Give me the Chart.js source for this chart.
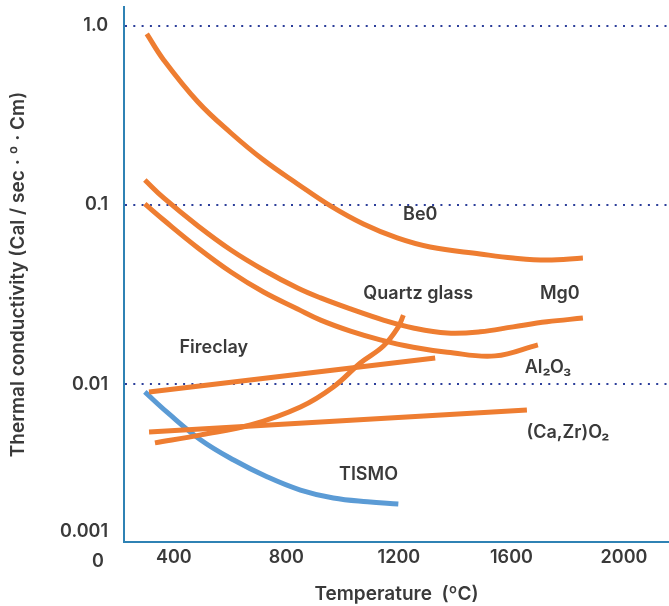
<!DOCTYPE html>
<html>
<head>
<meta charset="utf-8">
<script src="https://cdn.jsdelivr.net/npm/chart.js@4.4.1/dist/chart.umd.min.js"></script>
<style>
  html, body { margin: 0; padding: 0; background: #fff; }
  #wrap { width: 669px; height: 606px; }
</style>
</head>
<body>
<div id="wrap"><canvas id="myChart" width="669" height="606"></canvas></div>
<script>
// temperature (°C) and thermal conductivity
const beoTemp = [304, 364, 486, 603, 719, 840, 957, 1074, 1194, 1311, 1489, 1606, 1726, 1854];
const beoK    = [0.899, 0.644, 0.375, 0.252, 0.178, 0.131, 0.0988, 0.0783, 0.0655, 0.0583, 0.0533, 0.0506, 0.0493, 0.0506];

const mgoTemp = [297, 364, 486, 603, 719, 840, 922, 1028, 1145, 1251, 1372, 1489, 1606, 1726, 1854];
const mgoK    = [0.1378, 0.1094, 0.0764, 0.0561, 0.0434, 0.0344, 0.0303, 0.0263, 0.0228, 0.0206, 0.0193, 0.0196, 0.0209, 0.0223, 0.0234];

const aloTemp = [297, 364, 486, 603, 719, 840, 922, 1028, 1134, 1251, 1372, 1542, 1694];
const aloK    = [0.1013, 0.0824, 0.0576, 0.0423, 0.0327, 0.0263, 0.0228, 0.0198, 0.0177, 0.0161, 0.0151, 0.0144, 0.0166];

const fireclayTemp = [312, 1329];
const fireclayK    = [0.00906, 0.01402];

const czoTemp = [312, 1655];
const czoK    = [0.00542, 0.00719];

const quartzTemp = [333, 496, 673, 850, 967, 1063, 1145, 1198, 1216];
const quartzK    = [0.00471, 0.00522, 0.00593, 0.00747, 0.00966, 0.01315, 0.01635, 0.0209, 0.0243];

const tismoTemp = [297, 379, 496, 613, 733, 850, 967, 1088, 1198];
const tismoK    = [0.00906, 0.00692, 0.00489, 0.00378, 0.00304, 0.00257, 0.00232, 0.00221, 0.00215];

const xTicks = [400, 800, 1200, 1600, 2000];
const yTicks = [0.01, 0.1, 1];
const yTickText = { 0.01: '0.01', 0.1: '0.1', 1: '1.0' };

// curve names, placed in data units
const curveLabels = [
  { text: 'Be0', x: 1276, y: 0.088 },
  { text: 'Quartz glass', x: 1269, y: 0.0319 },
  { text: 'Mg0', x: 1772, y: 0.0319 },
  { text: 'Fireclay', x: 542, y: 0.01594 },
  { text: 'Al\u2082O\u2083', x: 1730, y: 0.01233 },
  { text: '(Ca,Zr)O\u2082', x: 1801, y: 0.00535 },
  { text: 'TISMO', x: 1092, y: 0.00312 }
];

const ORANGE = '#ee7d31';
const BLUE = '#5b9bd5';
const AXIS = '#2f82b4';
const TEXT = '#3a3a3a';
const FONT = 'Inter, "Noto Sans", sans-serif';

function pts(xs, ys) {
  return xs.map((x, i) => ({ x: x, y: ys[i] }));
}

function line(label, xs, ys, color) {
  return {
    label: label,
    data: pts(xs, ys),
    borderColor: color,
    borderWidth: 5,
    pointRadius: 0,
    fill: false,
    tension: 0.4
  };
}

const labelPlugin = {
  id: 'curveLabels',
  afterDatasetsDraw(chart) {
    const c = chart.ctx;
    const xs = chart.scales.x, ys = chart.scales.y;
    c.save();
    c.font = '600 18px ' + FONT;
    c.fillStyle = TEXT;
    c.textAlign = 'center';
    c.textBaseline = 'middle';
    curveLabels.forEach(l => {
      c.fillText(l.text, xs.getPixelForValue(l.x), ys.getPixelForValue(l.y));
    });
    // the odd bottom-left labels of the original
    c.textAlign = 'right';
    c.fillText('0.001', ys.right - 16, ys.bottom - 10);
    c.textAlign = 'center';
    c.fillText('0', 98, ys.bottom + 20);
    c.restore();
  }
};

new Chart(document.getElementById('myChart'), {
  type: 'line',
  data: {
    datasets: [
      line('Be0', beoTemp, beoK, ORANGE),
      line('Mg0', mgoTemp, mgoK, ORANGE),
      line('Al2O3', aloTemp, aloK, ORANGE),
      line('Fireclay', fireclayTemp, fireclayK, ORANGE),
      line('(Ca,Zr)O2', czoTemp, czoK, ORANGE),
      line('Quartz glass', quartzTemp, quartzK, ORANGE),
      line('TISMO', tismoTemp, tismoK, BLUE)
    ]
  },
  options: {
    responsive: false,
    animation: false,
    layout: { padding: { top: 7, left: 0, right: 0, bottom: 0 } },
    plugins: {
      legend: { display: false },
      tooltip: { enabled: false }
    },
    scales: {
      x: {
        type: 'linear',
        min: 223,
        max: 2160,
        afterBuildTicks: s => { s.ticks = xTicks.map(v => ({ value: v })); },
        afterFit: s => { s.height = 64; s.paddingLeft = 0; s.paddingRight = 0; },
        grid: { display: false, drawTicks: false },
        border: { display: true, color: AXIS, width: 2 },
        ticks: {
          padding: 5,
          color: TEXT,
          font: { family: FONT, size: 18, weight: '600' },
          callback: v => String(v)
        },
        title: {
          display: true,
          text: 'Temperature  (\u00baC)',
          color: TEXT,
          font: { family: FONT, size: 19, weight: '600' },
          padding: { top: 0, bottom: 0 }
        }
      },
      y: {
        type: 'logarithmic',
        min: 0.001319,
        max: 1.271,
        afterBuildTicks: s => { s.ticks = yTicks.map(v => ({ value: v })); },
        afterFit: s => { s.width = 124; s.paddingTop = 0; s.paddingBottom = 0; },
        grid: { display: true, drawTicks: false, color: '#2b3d9a', lineWidth: 2 },
        border: { display: true, color: AXIS, width: 2, dash: [2, 6.3] },
        ticks: {
          padding: 16,
          color: TEXT,
          font: { family: FONT, size: 18, weight: '600' },
          callback: v => yTickText[v] || ''
        },
        title: {
          display: true,
          text: 'Thermal conductivity (Cal / sec \u00b7 \u00ba \u00b7 Cm)',
          color: TEXT,
          font: { family: FONT, size: 19, weight: '600' },
          padding: { top: 7, bottom: 0 }
        }
      }
    }
  },
  plugins: [labelPlugin]
});
</script>
</body>
</html>
